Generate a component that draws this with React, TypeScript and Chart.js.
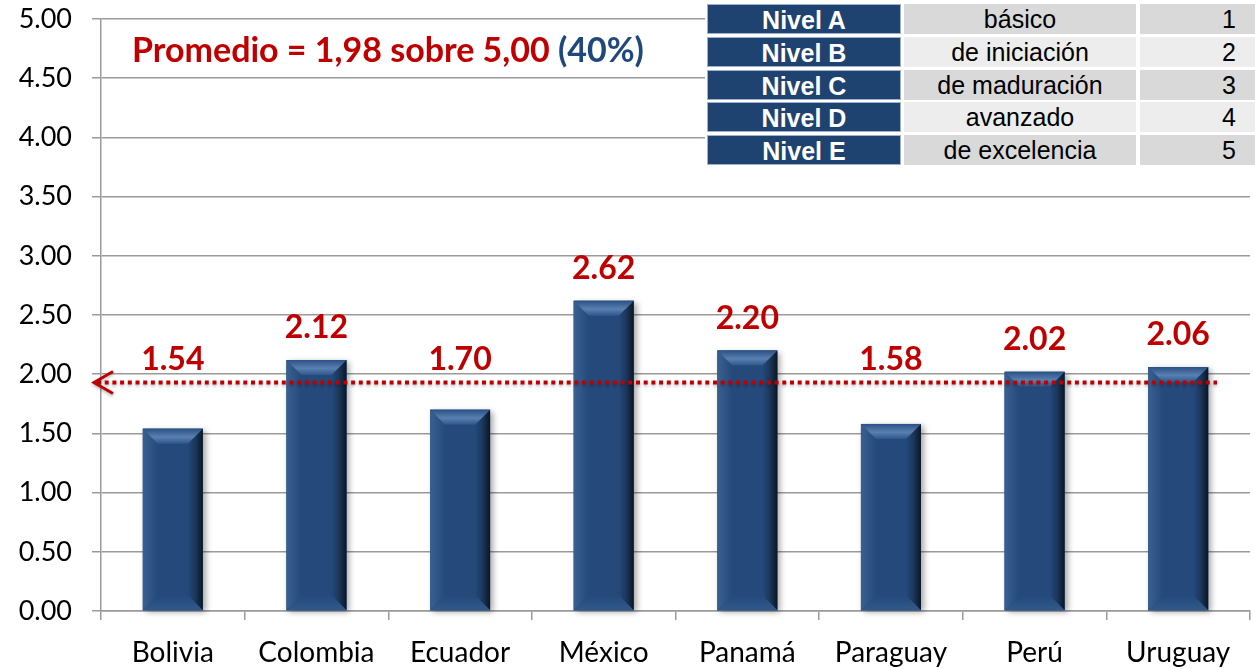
import React, { useEffect, useRef } from "react";
import { Chart, registerables } from "chart.js";

Chart.register(...registerables);

const categories = ["Bolivia", "Colombia", "Ecuador", "México", "Panamá", "Paraguay", "Perú", "Uruguay"];
const scores = [1.54, 2.12, 1.7, 2.62, 2.2, 1.58, 2.02, 2.06];
const scoreLabels = ["1.54", "2.12", "1.70", "2.62", "2.20", "1.58", "2.02", "2.06"];
const yMin = 0;
const yMax = 5;
const yStep = 0.5;
const averageLine = 1.93;
const titleMain = "Promedio = 1,98 sobre 5,00 ";
const titlePct = "(40%)";
const levelNames = ["Nivel A", "Nivel B", "Nivel C", "Nivel D", "Nivel E"];
const levelDescriptions = ["básico", "de iniciación", "de maduración", "avanzado", "de excelencia"];
const levelValues = ["1", "2", "3", "4", "5"];

const RED = "#C00000";
const NAVY = "#1F497D";
const BAR = "#24497a";
const GRID = "#9a9a9a";

function poly(ctx: CanvasRenderingContext2D, pts: number[][], fill: any) {
  ctx.beginPath();
  ctx.moveTo(pts[0][0], pts[0][1]);
  for (let i = 1; i < pts.length; i++) ctx.lineTo(pts[i][0], pts[i][1]);
  ctx.closePath();
  ctx.fillStyle = fill;
  ctx.fill();
}

const bevelPlugin = {
  id: "bevel",
  beforeDatasetsDraw(chart: any) {
    const ctx = chart.ctx as CanvasRenderingContext2D;
    const meta = chart.getDatasetMeta(0);
    ctx.save();
    meta.data.forEach((el: any) => {
      const { x, y, base, width } = el.getProps(["x", "y", "base", "width"], true);
      ctx.shadowColor = "rgba(0,0,0,0.35)";
      ctx.shadowBlur = 6;
      ctx.shadowOffsetX = 3;
      ctx.shadowOffsetY = 2;
      ctx.fillStyle = BAR;
      ctx.fillRect(x - width / 2, y, width, base - y);
    });
    ctx.restore();
  },
  afterDatasetsDraw(chart: any) {
    const ctx = chart.ctx as CanvasRenderingContext2D;
    const meta = chart.getDatasetMeta(0);
    meta.data.forEach((el: any) => {
      const { x, y, base, width } = el.getProps(["x", "y", "base", "width"], true);
      const x0 = x - width / 2;
      const x1 = x + width / 2;
      const top = y;
      const bot = base;
      const b = 15;
      ctx.save();
      let g = ctx.createLinearGradient(x0, 0, x0 + b, 0);
      g.addColorStop(0, "rgba(110,150,200,0.30)");
      g.addColorStop(1, "rgba(110,150,200,0)");
      poly(ctx, [[x0, top], [x0 + b, top + b], [x0 + b, bot - b], [x0, bot]], g);
      g = ctx.createLinearGradient(x1 - b, 0, x1, 0);
      g.addColorStop(0, "rgba(0,0,0,0)");
      g.addColorStop(0.5, "rgba(0,0,0,0.25)");
      g.addColorStop(1, "rgba(0,0,0,0.7)");
      poly(ctx, [[x1, top], [x1 - b, top + b], [x1 - b, bot - b], [x1, bot]], g);
      g = ctx.createLinearGradient(0, top, 0, top + b);
      g.addColorStop(0, "#2a5185");
      g.addColorStop(0.55, "#5a80b1");
      g.addColorStop(1, "#2e578a");
      poly(ctx, [[x0, top], [x1, top], [x1 - b, top + b], [x0 + b, top + b]], g);
      g = ctx.createLinearGradient(0, bot - b, 0, bot);
      g.addColorStop(0, "#24497a");
      g.addColorStop(1, "#30598b");
      poly(ctx, [[x0, bot], [x1, bot], [x1 - b, bot - b], [x0 + b, bot - b]], g);
      ctx.restore();
    });
  },
};

const overlayPlugin = {
  id: "overlay",
  afterDraw(chart: any) {
    const ctx = chart.ctx as CanvasRenderingContext2D;
    const ys = chart.scales.y;
    const area = chart.chartArea;
    const avgPx = ys.getPixelForValue(averageLine);
    ctx.save();
    ctx.shadowColor = "rgba(0,0,0,0.25)";
    ctx.shadowBlur = 3;
    ctx.shadowOffsetY = 2;
    ctx.strokeStyle = RED;
    ctx.lineWidth = 4;
    ctx.setLineDash([4, 3.7]);
    ctx.beginPath();
    ctx.moveTo(area.left - 4, avgPx);
    ctx.lineTo(area.right - 33, avgPx);
    ctx.stroke();
    ctx.setLineDash([]);
    ctx.lineWidth = 3;
    ctx.beginPath();
    ctx.moveTo(area.left + 12, avgPx - 11);
    ctx.lineTo(area.left - 7, avgPx);
    ctx.lineTo(area.left + 12, avgPx + 11);
    ctx.stroke();
    ctx.restore();

    const meta = chart.getDatasetMeta(0);
    ctx.save();
    ctx.font = "bold 32px Lato";
    ctx.fillStyle = RED;
    ctx.textAlign = "center";
    ctx.textBaseline = "alphabetic";
    meta.data.forEach((el: any, i: number) => {
      const { x, y } = el.getProps(["x", "y"], true);
      const baseY = Math.min(y - 22, avgPx - 12);
      ctx.fillText(scoreLabels[i], x, baseY);
    });
    ctx.restore();

    ctx.save();
    ctx.font = "bold 34px Lato";
    ctx.textAlign = "left";
    ctx.textBaseline = "alphabetic";
    ctx.fillStyle = RED;
    ctx.fillText(titleMain, 132, 62);
    const w = ctx.measureText(titleMain).width;
    ctx.fillStyle = NAVY;
    ctx.fillText(titlePct, 132 + w, 62);
    ctx.restore();
  },
};

const colX = [707, 904, 1140];
const colW = [194, 232, 115];
const rowTop = 4;
const rowPitch = 32.8;
const rowH = 30;

export default function App() {
  const ref = useRef<HTMLCanvasElement>(null);
  useEffect(() => {
    const chart = new Chart(ref.current!, {
      type: "bar",
      data: {
        labels: categories,
        datasets: [
          {
            data: scores,
            backgroundColor: BAR,
            borderWidth: 0,
            categoryPercentage: 1,
            barPercentage: 0.418,
          },
        ],
      },
      plugins: [bevelPlugin, overlayPlugin],
      options: {
        animation: false,
        responsive: false,
        layout: { padding: { top: 19, right: 5, left: 0, bottom: 0 } },
        plugins: { legend: { display: false }, tooltip: { enabled: false }, title: { display: false } },
        scales: {
          x: {
            afterFit: (s: any) => {
              s.height = 58;
              s.paddingLeft = 0;
              s.paddingRight = 0;
            },
            grid: { display: true, drawOnChartArea: false, drawTicks: true, tickLength: 9, offset: true, color: GRID, lineWidth: 1.5 },
            border: { display: true, color: GRID, width: 1.5 },
            ticks: { color: "#000", font: { family: "Lato", size: 28 }, padding: 16, maxRotation: 0 },
          },
          y: {
            min: yMin,
            max: yMax,
            afterFit: (s: any) => {
              s.width = 101;
              s.paddingTop = 0;
              s.paddingBottom = 0;
            },
            grid: { color: GRID, lineWidth: 1.5, tickLength: 9, drawTicks: true },
            border: { display: true, color: GRID, width: 1.5 },
            ticks: {
              stepSize: yStep,
              color: "#000",
              font: { family: "Lato", size: 27 },
              padding: 20,
              callback: (v: any) => Number(v).toFixed(2),
            },
          },
        },
      },
    });
    return () => chart.destroy();
  }, []);

  const cells: any[] = [];
  levelNames.forEach((name, i) => {
    const top = rowTop + i * rowPitch;
    const light = i % 2 === 1;
    const grey = light ? "#EDEDED" : "#D9D9D9";
    const base: React.CSSProperties = {
      position: "absolute",
      top,
      height: rowH,
      lineHeight: rowH + "px",
      fontFamily: "'Liberation Sans', Arial, sans-serif",
      fontSize: 25,
      boxSizing: "border-box",
      whiteSpace: "nowrap",
    };
    cells.push(
      <div key={"n" + i} style={{ ...base, left: colX[0], width: colW[0], background: "#1F4370", color: "#fff", fontWeight: "bold", textAlign: "center", border: "1px solid #9fb0c8" }}>
        {name}
      </div>
    );
    cells.push(
      <div key={"d" + i} style={{ ...base, left: colX[1], width: colW[1], background: grey, color: "#000", textAlign: "center" }}>
        {levelDescriptions[i]}
      </div>
    );
    cells.push(
      <div key={"v" + i} style={{ ...base, left: colX[2], width: colW[2], background: grey, color: "#000", textAlign: "right", paddingRight: 19 }}>
        {levelValues[i]}
      </div>
    );
  });

  return (
    <div style={{ position: "absolute", left: 0, top: 0, width: 1255, height: 669, background: "#fff", overflow: "hidden" }}>
      <canvas ref={ref} width={1255} height={669} style={{ position: "absolute", left: 0, top: 0 }} />
      <div style={{ position: "absolute", left: 705, top: 2, width: 550, height: 166, background: "#fff" }} />
      {cells}
    </div>
  );
}
